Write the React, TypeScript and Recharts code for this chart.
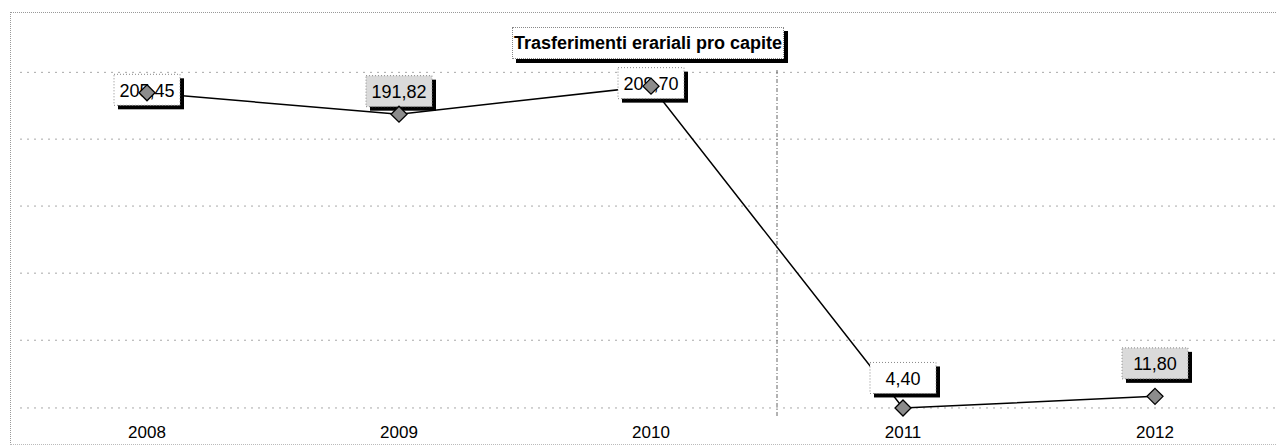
import React from "react";
import {
  LineChart,
  Line,
  XAxis,
  YAxis,
  CartesianGrid,
  LabelList,
  ReferenceLine,
} from "recharts";

const years = ["2008", "2009", "2010", "2011", "2012"];
const transfers = [205.45, 191.82, 209.7, 4.4, 11.8];
const gridTicks = [4.4, 47.6, 90.4, 133.2, 175.9, 218.5];

const chartData = years.map((year, i) => ({ year, value: transfers[i] }));

// how far each value box sits above its marker, and which boxes are shaded
const labelLift = [3, 23, 3, 30, 33];
const labelShade = [false, true, false, false, true];

const font = "'Liberation Sans', Arial, sans-serif";

const fmt = (v: number) => Number(v).toFixed(2).replace(".", ",");

const ValueTag = (props: any) => {
  const { x, y, value, index } = props;
  const w = 66;
  const h = 31;
  const cx = Number(x);
  const cy = Number(y) - labelLift[index];
  const left = cx - w / 2;
  const top = cy - h / 2;
  return (
    <g>
      <rect x={left + 4} y={top + 4} width={w} height={h} fill="#000" />
      <rect
        x={left}
        y={top}
        width={w}
        height={h}
        fill={labelShade[index] ? "#dadada" : "#fff"}
        stroke="#888"
        strokeDasharray="1 2"
      />
      <text
        x={cx}
        y={cy + 1}
        textAnchor="middle"
        dominantBaseline="central"
        fontSize={18}
        fontFamily={font}
        fill="#000"
      >
        {fmt(value)}
      </text>
    </g>
  );
};

// marker drawn as a label so it sits on top of the value boxes
const Diamond = (props: any) => {
  const { x, y } = props;
  const cx = Number(x);
  const cy = Number(y);
  const r = 8;
  return (
    <polygon
      points={`${cx},${cy - r} ${cx + r},${cy} ${cx},${cy + r} ${cx - r},${cy}`}
      fill="#8c8c8c"
      stroke="#000"
      strokeWidth={1.3}
    />
  );
};

const App = () => {
  return (
    <div style={{ position: "absolute", left: 0, top: 0, width: 1276, height: 447, background: "#fff" }}>
      <div
        style={{
          position: "absolute",
          left: 10,
          top: 12,
          width: 1265,
          height: 431,
          borderLeft: "1px dotted #999",
          borderTop: "1px dotted #999",
          borderBottom: "1px dotted #bbb",
        }}
      />
      <LineChart
        width={1276}
        height={447}
        data={chartData}
        margin={{ top: 12, right: 0, left: 20, bottom: 0 }}
        style={{ position: "absolute", left: 0, top: 0 }}
      >
        <CartesianGrid
          vertical={false}
          horizontalFill={[]}
          stroke="#a8a8a8"
          strokeDasharray="2 5"
          syncWithTicks
        />
        <XAxis
          dataKey="year"
          padding={{ left: 127, right: 121 }}
          height={29}
          axisLine={false}
          tickLine={false}
          tick={{ fontSize: 17, fill: "#000", fontFamily: font }}
        />
        <XAxis
          xAxisId="num"
          type="number"
          domain={[0, 4]}
          padding={{ left: 127, right: 121 }}
          hide
        />
        <YAxis
          domain={[-2, 257]}
          ticks={gridTicks}
          interval={0}
          width={0}
          tick={() => <g />}
          axisLine={false}
          tickLine={false}
        />
        <ReferenceLine
          xAxisId="num"
          segment={[
            { x: 2.5, y: 220 },
            { x: 2.5, y: -2 },
          ]}
          stroke="#666"
          strokeDasharray="4 2 1 2"
        />
        <Line
          dataKey="value"
          stroke="#000"
          strokeWidth={1.5}
          dot={false}
          activeDot={false}
          isAnimationActive={false}
        >
          <LabelList dataKey="value" content={ValueTag} />
        </Line>
        <Line
          dataKey="value"
          stroke="none"
          dot={false}
          activeDot={false}
          isAnimationActive={false}
        >
          <LabelList dataKey="value" content={Diamond} />
        </Line>
      </LineChart>
      <div
        style={{
          position: "absolute",
          left: 512,
          top: 27,
          width: 270,
          height: 30,
          border: "1px dotted #888",
          boxShadow: "4px 4px 0 #000",
          background: "#fff",
          fontFamily: font,
          fontWeight: "bold",
          fontSize: 18,
          lineHeight: "30px",
          textAlign: "center",
          whiteSpace: "nowrap",
        }}
      >
        Trasferimenti erariali pro capite
      </div>
    </div>
  );
};

export default App;
